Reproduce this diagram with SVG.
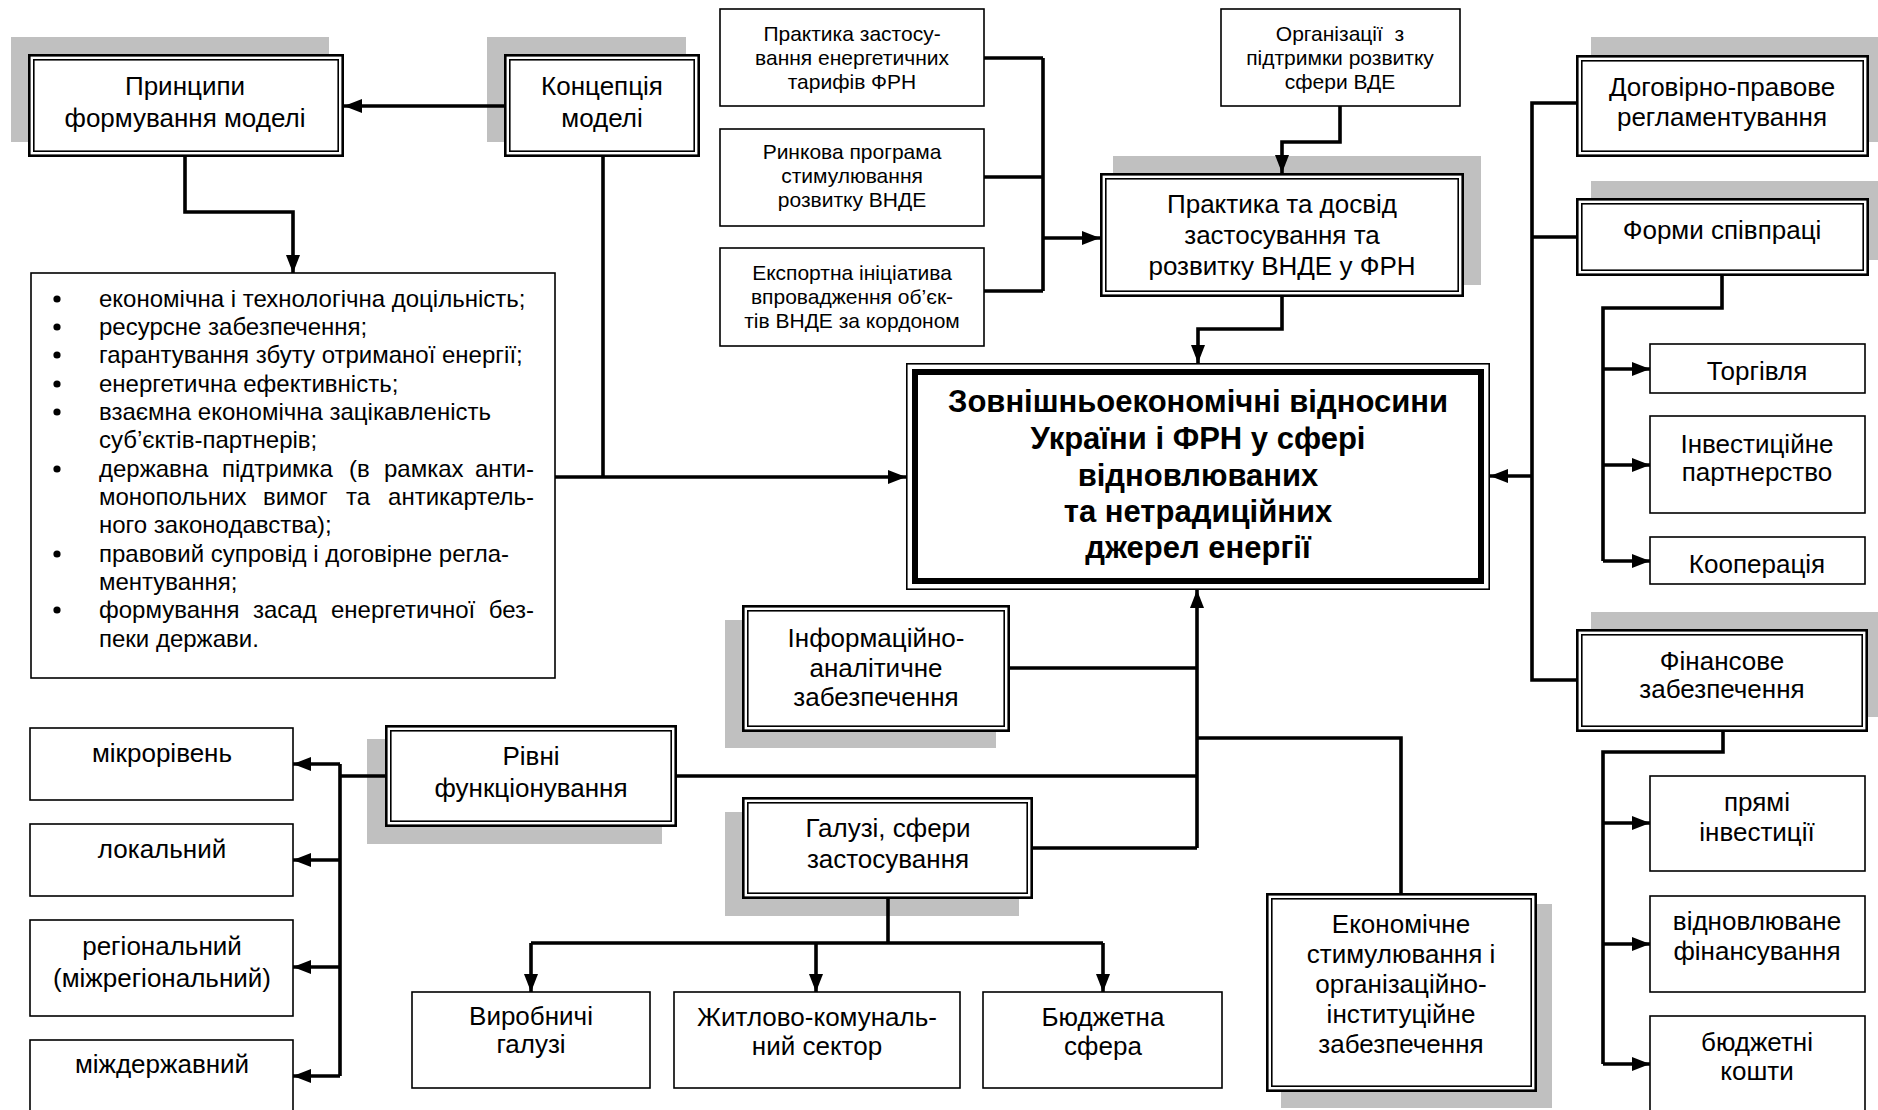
<svg xmlns="http://www.w3.org/2000/svg" width="1878" height="1110" viewBox="0 0 1878 1110">
<style>
.sh{fill:#c0c0c0}
.box{fill:#fff;stroke:#000;stroke-width:1.6}
.dbo{fill:#fff;stroke:#000;stroke-width:2.6}
.dbi{fill:none;stroke:#000;stroke-width:1.6}
.t{font-family:"Liberation Sans",Arial,sans-serif;font-size:26px;text-anchor:middle;fill:#000}
.s{font-size:21px}
.l{font-family:"Liberation Sans",Arial,sans-serif;font-size:24px;fill:#000}
.b{font-weight:bold;font-size:31px}
.c{stroke:#000;stroke-width:3.6;fill:none}
.ca{stroke:#000;stroke-width:3.6;fill:none;marker-end:url(#ah)}
</style>
<defs>
<marker id="ah" markerUnits="userSpaceOnUse" markerWidth="18" markerHeight="14" refX="18" refY="7" orient="auto" viewBox="0 0 18 14">
<path d="M0,0 L18,7 L0,14 z" fill="#000"/>
</marker>
</defs>
<rect width="1878" height="1110" fill="#fff"/>

<g id="pryntsypy">
<rect class="sh" x="11" y="37" width="318" height="105"/>
<rect class="dbo" x="29.3" y="55.3" width="313.4" height="100.4"/>
<rect class="dbi" x="33.8" y="59.8" width="304.4" height="91.4"/>
<text class="t" x="185" y="95">Принципи</text>
<text class="t" x="185" y="127">формування моделі</text>
</g>

<g id="kontseptsiia">
<rect class="sh" x="487" y="37" width="199" height="105"/>
<rect class="dbo" x="505.3" y="55.3" width="193.4" height="100.4"/>
<rect class="dbi" x="509.8" y="59.8" width="184.4" height="91.4"/>
<text class="t" x="602" y="95">Концепція</text>
<text class="t" x="602" y="127">моделі</text>
</g>

<g id="tarify">
<rect class="box" x="720" y="9" width="264" height="97"/>
<text class="t s" x="852" y="41">Практика застосу-</text>
<text class="t s" x="852" y="65">вання енергетичних</text>
<text class="t s" x="852" y="89">тарифів ФРН</text>
</g>

<g id="rynkova">
<rect class="box" x="720" y="129" width="264" height="97"/>
<text class="t s" x="852" y="159">Ринкова програма</text>
<text class="t s" x="852" y="183">стимулювання</text>
<text class="t s" x="852" y="207">розвитку ВНДЕ</text>
</g>

<g id="eksport">
<rect class="box" x="720" y="248" width="264" height="98"/>
<text class="t s" x="852" y="280">Експортна ініціатива</text>
<text class="t s" x="852" y="304">впровадження об’єк-</text>
<text class="t s" x="852" y="328">тів ВНДЕ за кордоном</text>
</g>

<g id="orhanizatsii">
<rect class="box" x="1221" y="9" width="239" height="97"/>
<text class="t s" x="1340" y="41" xml:space="preserve">Організації  з</text>
<text class="t s" x="1340" y="65">підтримки розвитку</text>
<text class="t s" x="1340" y="89">сфери ВДЕ</text>
</g>

<g id="praktyka">
<rect class="sh" x="1113" y="156" width="368" height="129"/>
<rect class="dbo" x="1101.3" y="174.3" width="361.4" height="121.4"/>
<rect class="dbi" x="1105.8" y="178.8" width="352.4" height="112.4"/>
<text class="t" x="1282" y="213">Практика та досвід</text>
<text class="t" x="1282" y="244">застосування та</text>
<text class="t" x="1282" y="275">розвитку ВНДЕ у ФРН</text>
</g>

<g id="dohovirno">
<rect class="sh" x="1591" y="37" width="287" height="105"/>
<rect class="dbo" x="1577.3" y="56.3" width="290.4" height="99.4"/>
<rect class="dbi" x="1581.8" y="60.8" width="281.4" height="90.4"/>
<text class="t" x="1722" y="96">Договірно-правове</text>
<text class="t" x="1722" y="126">регламентування</text>
</g>

<g id="formy">
<rect class="sh" x="1591" y="181" width="287" height="79"/>
<rect class="dbo" x="1577.3" y="199.3" width="290.4" height="75.4"/>
<rect class="dbi" x="1581.8" y="203.8" width="281.4" height="66.4"/>
<text class="t" x="1722" y="239">Форми співпраці</text>
</g>

<g id="torhivlia">
<rect class="box" x="1650" y="344" width="215" height="49"/>
<text class="t" x="1757" y="380">Торгівля</text>
</g>

<g id="investytsiine">
<rect class="box" x="1650" y="416" width="215" height="97"/>
<text class="t" x="1757" y="453">Інвестиційне</text>
<text class="t" x="1757" y="481">партнерство</text>
</g>

<g id="kooperatsiia">
<rect class="box" x="1650" y="537" width="215" height="47"/>
<text class="t" x="1757" y="573">Кооперація</text>
</g>

<g id="finansove">
<rect class="sh" x="1591" y="612" width="287" height="105"/>
<rect class="dbo" x="1577.3" y="630.3" width="289.4" height="100.4"/>
<rect class="dbi" x="1581.8" y="634.8" width="280.4" height="91.4"/>
<text class="t" x="1722" y="670">Фінансове</text>
<text class="t" x="1722" y="698">забезпечення</text>
</g>

<g id="priami">
<rect class="box" x="1650" y="776" width="215" height="95"/>
<text class="t" x="1757" y="811">прямі</text>
<text class="t" x="1757" y="841">інвестиції</text>
</g>

<g id="vidnovliuvane">
<rect class="box" x="1650" y="896" width="215" height="96"/>
<text class="t" x="1757" y="930">відновлюване</text>
<text class="t" x="1757" y="960">фінансування</text>
</g>

<g id="biudzhetni">
<rect class="box" x="1650" y="1016" width="215" height="110"/>
<text class="t" x="1757" y="1051">бюджетні</text>
<text class="t" x="1757" y="1080">кошти</text>
</g>

<g id="pryntsypy-list">
<rect class="box" x="31" y="273" width="524" height="405"/>
<g class="l">
<circle cx="57" cy="299" r="3.6"/><circle cx="57" cy="327" r="3.6"/><circle cx="57" cy="355" r="3.6"/><circle cx="57" cy="384" r="3.6"/><circle cx="57" cy="412" r="3.6"/><circle cx="57" cy="469" r="3.6"/><circle cx="57" cy="554" r="3.6"/><circle cx="57" cy="610" r="3.6"/>
<text x="99" y="307">економічна і технологічна доцільність;</text>
<text x="99" y="335">ресурсне забезпечення;</text>
<text x="99" y="363">гарантування збуту отриманої енергії;</text>
<text x="99" y="392">енергетична ефективність;</text>
<text x="99" y="420">взаємна економічна зацікавленість</text>
<text x="99" y="448">суб’єктів-партнерів;</text>
<text x="99" y="477">державна</text><text x="222" y="477">підтримка</text><text x="349" y="477">(в</text><text x="384" y="477">рамках</text><text x="534" y="477" text-anchor="end">анти-</text>
<text x="99" y="505">монопольних</text><text x="263" y="505">вимог</text><text x="346" y="505">та</text><text x="534" y="505" text-anchor="end">антикартель-</text>
<text x="99" y="533">ного законодавства);</text>
<text x="99" y="562">правовий супровід і договірне регла-</text>
<text x="99" y="590">ментування;</text>
<text x="99" y="618">формування</text><text x="253" y="618">засад</text><text x="331" y="618">енергетичної</text><text x="534" y="618" text-anchor="end">без-</text>
<text x="99" y="647">пеки держави.</text>
</g>
</g>

<g id="tsentr">
<rect x="906.8" y="363.8" width="582.4" height="225.4" fill="#fff" stroke="#000" stroke-width="1.6"/>
<rect x="915" y="372" width="566" height="209" fill="none" stroke="#000" stroke-width="6"/>
<text class="t b" x="1198" y="412">Зовнішньоекономічні відносини</text>
<text class="t b" x="1198" y="449">України і ФРН у сфері</text>
<text class="t b" x="1198" y="486">відновлюваних</text>
<text class="t b" x="1198" y="522">та нетрадиційних</text>
<text class="t b" x="1198" y="558">джерел енергії</text>
</g>

<g id="informatsiine">
<rect class="sh" x="725" y="620" width="271" height="128"/>
<rect class="dbo" x="743.3" y="606.3" width="265.4" height="124.4"/>
<rect class="dbi" x="747.8" y="610.8" width="256.4" height="115.4"/>
<text class="t" x="876" y="647">Інформаційно-</text>
<text class="t" x="876" y="677">аналітичне</text>
<text class="t" x="876" y="706">забезпечення</text>
</g>

<g id="rivni">
<rect class="sh" x="367" y="739" width="295" height="105"/>
<rect class="dbo" x="386.3" y="726.3" width="289.4" height="99.4"/>
<rect class="dbi" x="390.8" y="730.8" width="280.4" height="90.4"/>
<text class="t" x="531" y="765">Рівні</text>
<text class="t" x="531" y="797">функціонування</text>
</g>

<g id="mikro">
<rect class="box" x="30" y="728" width="263" height="72"/>
<text class="t" x="162" y="762">мікрорівень</text>
</g>
<g id="lokalnyi">
<rect class="box" x="30" y="824" width="263" height="72"/>
<text class="t" x="162" y="858">локальний</text>
</g>
<g id="rehionalnyi">
<rect class="box" x="30" y="920" width="263" height="96"/>
<text class="t" x="162" y="955">регіональний</text>
<text class="t" x="162" y="987">(міжрегіональний)</text>
</g>
<g id="mizhderzhavnyi">
<rect class="box" x="30" y="1040" width="263" height="90"/>
<text class="t" x="162" y="1073">міждержавний</text>
</g>

<g id="haluzi">
<rect class="sh" x="725" y="812" width="294" height="104"/>
<rect class="dbo" x="743.3" y="798.3" width="288.4" height="99.4"/>
<rect class="dbi" x="747.8" y="802.8" width="279.4" height="90.4"/>
<text class="t" x="888" y="837">Галузі, сфери</text>
<text class="t" x="888" y="868">застосування</text>
</g>

<g id="vyrobnychi">
<rect class="box" x="412" y="992" width="238" height="96"/>
<text class="t" x="531" y="1025">Виробничі</text>
<text class="t" x="531" y="1053">галузі</text>
</g>
<g id="zhytlovo">
<rect class="box" x="674" y="992" width="286" height="96"/>
<text class="t" x="817" y="1026">Житлово-комуналь-</text>
<text class="t" x="817" y="1055">ний сектор</text>
</g>
<g id="biudzhetna">
<rect class="box" x="983" y="992" width="239" height="96"/>
<text class="t" x="1103" y="1026">Бюджетна</text>
<text class="t" x="1103" y="1055">сфера</text>
</g>

<g id="ekonomichne">
<rect class="sh" x="1281" y="904" width="271" height="204"/>
<rect class="dbo" x="1267.3" y="894.3" width="268.4" height="196.4"/>
<rect class="dbi" x="1271.8" y="898.8" width="259.4" height="187.4"/>
<text class="t" x="1401" y="933">Економічне</text>
<text class="t" x="1401" y="963">стимулювання і</text>
<text class="t" x="1401" y="993">організаційно-</text>
<text class="t" x="1401" y="1023">інституційне</text>
<text class="t" x="1401" y="1053">забезпечення</text>
</g>

<g id="connectors">
<path class="ca" d="M504,106 H344"/>
<path class="ca" d="M185,157 V212 H293 V273"/>
<path class="c" d="M603,157 V477"/>
<path class="ca" d="M555,477 H906"/>
<path class="c" d="M984,58 H1043 M984,177 H1043 M984,291 H1043 M1043,58 V291"/>
<path class="ca" d="M1043,238 H1100"/>
<path class="ca" d="M1340,106 V142 H1282 V173"/>
<path class="ca" d="M1282,297 V329 H1198 V363"/>
<path class="c" d="M1576,103 H1532 V680 H1576 M1532,237 H1576"/>
<path class="ca" d="M1532,476 H1490"/>
<path class="c" d="M1722,276 V308 H1603 V561"/>
<path class="ca" d="M1603,369 H1650"/>
<path class="ca" d="M1603,465 H1650"/>
<path class="ca" d="M1603,561 H1650"/>
<path class="c" d="M1723,732 V752 H1603 V1064"/>
<path class="ca" d="M1603,823 H1650"/>
<path class="ca" d="M1603,944 H1650"/>
<path class="ca" d="M1603,1064 H1650"/>
<path class="ca" d="M1197,848 V590"/>
<path class="c" d="M1010,668 H1197 M677,776 H1197 M1033,848 H1197 M1197,738 H1401 V893"/>
<path class="c" d="M385,776 H340 M340,764 V1076"/>
<path class="ca" d="M340,764 H293"/>
<path class="ca" d="M340,860 H293"/>
<path class="ca" d="M340,967 H293"/>
<path class="ca" d="M340,1076 H293"/>
<path class="c" d="M888,899 V943 M531,943 H1103"/>
<path class="ca" d="M531,943 V992"/>
<path class="ca" d="M816,943 V992"/>
<path class="ca" d="M1103,943 V992"/>
</g>
</svg>
